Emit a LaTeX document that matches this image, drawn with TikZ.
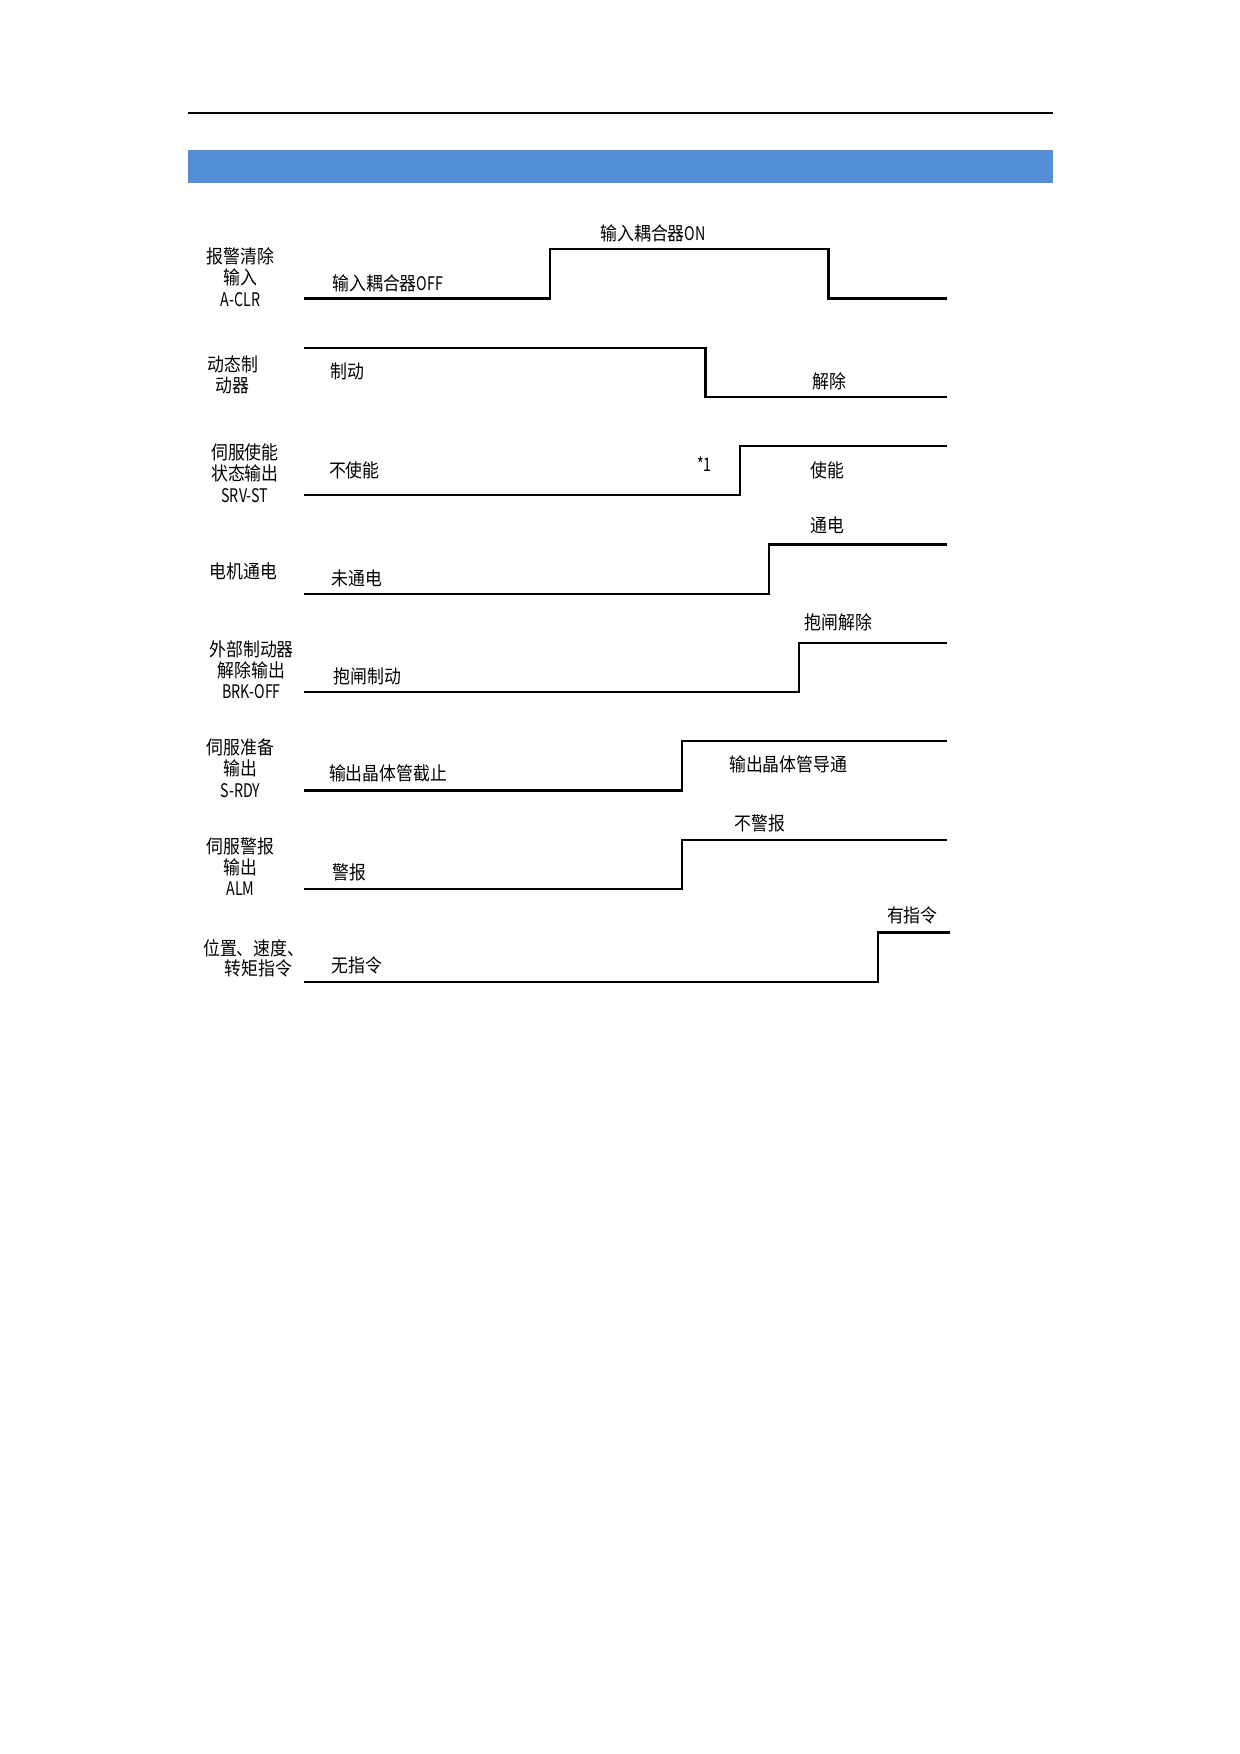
\documentclass[tikz,border=0pt]{standalone}
\usepackage{fontspec}
\newfontfamily\cjk[FakeStretch=0.9]{Noto Sans CJK SC}
\newfontfamily\lat[FakeStretch=0.76]{Noto Sans CJK SC}
\definecolor{bandblue}{RGB}{84,142,213}

\begin{document}
\begin{tikzpicture}[x=0.48pt, y=-0.48pt,
  wave/.style={line width=1pt, line join=miter},
  sname/.style={font=\cjk\fontsize{9}{10.2}\selectfont, align=center, inner sep=0pt},
  state/.style={font=\cjk\fontsize{9}{10.2}\selectfont, inner sep=0pt}
]
  \useasboundingbox (0,0) rectangle (1240,1754);

  % Page header: rule and blue title band
  \draw[line width=0.8pt] (188,113) -- (1053,113);
  \fill[bandblue] (188,150) rectangle (1053,182.5);

  % Signal names (left column)
  \node[sname] (nACLR) at (240.4,277) {报警清除\\输入\\{\lat A-CLR}};
  \node[sname] (nDB)   at (232.6,374.6) {动态制\\动器};
  \node[sname] (nSRV)  at (244.9,473) {伺服使能\\状态输出\\{\lat SRV-ST}};
  \node[sname] (nMOT)  at (243.2,571.3) {电机通电};
  \node[sname] (nBRK)  at (251.6,669.7) {外部制动器\\解除输出\\{\lat BRK-OFF}};
  \node[sname] (nRDY)  at (240.4,768.1) {伺服准备\\输出\\{\lat S-RDY}};
  \node[sname] (nALM)  at (240.4,866.5) {伺服警报\\输出\\{\lat ALM}};
  \node[sname] (nCMD1) at (253.8,948.2) {位置、速度、};
  \node[sname] (nCMD2) at (258.3,968.3) {转矩指令};

  % A-CLR pulse
  \draw[wave] (304,298.5) -- (550,298.5) -- (550,249.3) -- (828.5,249.3)
    -- (828.5,298.5) -- (947,298.5);

  % Dynamic brake: falls
  \draw[wave] (304,347.7) -- (705.5,347.7) -- (705.5,396.9) -- (947,396.9);

  % Remaining signals: rise once (low level / edge / end)
  \foreach \ylo/\xe/\xend in {495.3/740.2/947, 593.7/769.2/947, 692.1/799.4/947,
                              790.5/682/947, 888.9/682/947, 981.7/877.7/950.4}
    \draw[wave] (304,\ylo) -- (\xe,\ylo) -- (\xe,\ylo-49.2) -- (\xend,\ylo-49.2);

  % State labels
  \node[state, anchor=west] (sOFF)  at (332,283) {输入耦合器{\lat OFF}};
  \node[state]              (sON)   at (653,233.7) {输入耦合器{\lat ON}};
  \node[state, anchor=west] (sBRK)  at (329.8,371.2) {制动};
  \node[state]              (sREL)  at (829.6,381.3) {解除};
  \node[state, anchor=west] (sDIS)  at (328.7,470.7) {不使能};
  \node[state]              (sNOTE) at (704.4,464) {\lat *1};
  \node[state]              (sEN)   at (827.4,470.7) {使能};
  \node[state, anchor=west] (sNPW)  at (331,578.1) {未通电};
  \node[state]              (sPW)   at (827.4,525.5) {通电};
  \node[state, anchor=west] (sHOLD) at (333.2,676.5) {抱闸制动};
  \node[state]              (sFREE) at (838.6,622.8) {抱闸解除};
  \node[state, anchor=west] (sCUT)  at (328.7,773.7) {输出晶体管截止};
  \node[state]              (sCON)  at (788.3,764.8) {输出晶体管导通};
  \node[state, anchor=west] (sALM)  at (332,872.1) {警报};
  \node[state]              (sNALM) at (760.3,822.9) {不警报};
  \node[state, anchor=west] (sNCMD) at (331,964.9) {无指令};
  \node[state]              (sCMD)  at (912.4,915.7) {有指令};
\end{tikzpicture}
\end{document}
